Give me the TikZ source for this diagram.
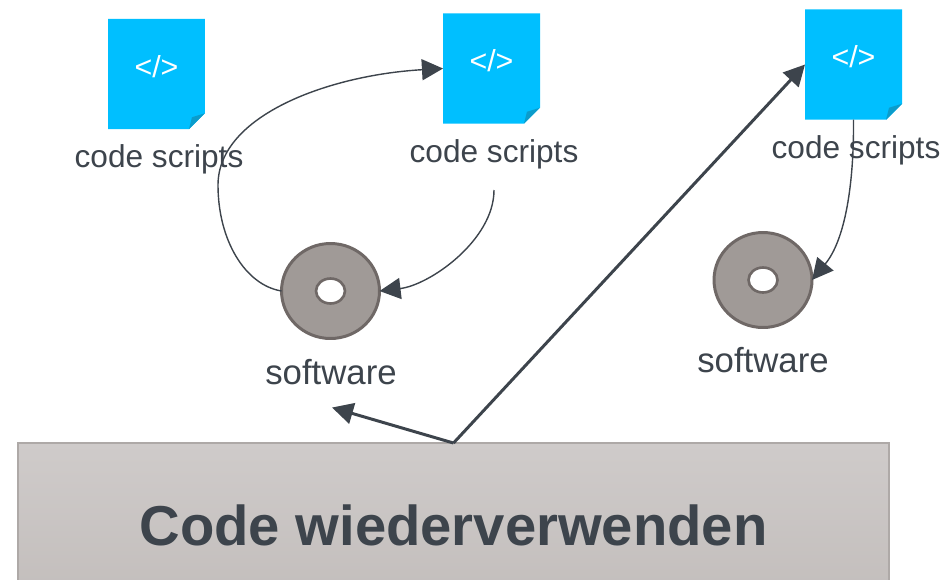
\documentclass[tikz,border=0pt]{standalone}
\usepackage{fontspec}
\setmainfont{Liberation Sans}
\usepackage{tikz}
\usetikzlibrary{calc}
\usetikzlibrary{arrows.meta}
\usetikzlibrary{shapes.geometric}
\definecolor{ink}{HTML}{3d444c}
\definecolor{paper}{HTML}{00bfff}
\definecolor{fold}{HTML}{0b9ccb}
\definecolor{disc}{HTML}{a09a97}
\definecolor{discline}{HTML}{6f6866}
\definecolor{boxtop}{HTML}{cfcbca}
\definecolor{boxbottom}{HTML}{c2bdbb}
\tikzset{
  scriptdoc/.style={rectangle,inner sep=0pt,outer sep=0pt,minimum width=1.94cm,minimum height=2.21cm},
  tagtext/.style={text=white,font=\fontsize{17.3}{20}\selectfont,inner sep=0pt},
  caption/.style={text=ink,font=\fontsize{18}{21}\selectfont,inner sep=0pt},
  softcaption/.style={text=ink,font=\fontsize{19.8}{23}\selectfont,inner sep=0pt},
  discbody/.style={ellipse,fill=disc,draw=discline,line width=1.7pt,inner sep=0pt,outer sep=0pt,minimum width=1.96cm,minimum height=1.9cm},
  dischole/.style={ellipse,fill=white,draw=discline,line width=1.5pt,inner sep=0pt,outer sep=0pt,minimum width=0.58cm,minimum height=0.5cm},
  thinarrow/.style={draw=ink,line width=0.8pt,-{Triangle[length=12pt,width=12pt]}},
  thickarrow/.style={draw=ink,line width=1.7pt,-{Triangle[length=12pt,width=12pt]}}
}
\begin{document}
\begin{tikzpicture}[x=0.02cm,y=-0.02cm]
\useasboundingbox (0,0) rectangle (952,579);

\foreach \name/\x/\y in {a/156.5/74, b/491.5/68.5, c/853.5/64.5} {
  \node[scriptdoc] (script\name) at (\x,\y) {};
  \fill[paper] (script\name.north west) -- (script\name.north east) -- ($(script\name.south east)+(0,-16)$) -- ($(script\name.south east)+(-16,0)$) -- (script\name.south west) -- cycle;
  \fill[fold] ($(script\name.south east)+(0,-16)$) -- ($(script\name.south east)+(-13,-12)$) -- ($(script\name.south east)+(-16,0)$) -- cycle;
  \node[tagtext] (tag\name) at ([yshift=4.2pt]script\name.center) {</>};
}

\node[caption] (labela) at (159,159) {code scripts};
\node[caption] (labelb) at (494,154) {code scripts};
\node[caption] (labelc) at (856,150) {code scripts};

\node[discbody] (disca) at (330.5,291) {};
\node[dischole] (holea) at (disca.center) {};
\node[discbody] (discb) at (763,280) {};
\node[dischole] (holeb) at (discb.center) {};

\node[softcaption] (softa) at (331,372) {software};
\node[softcaption] (softb) at (763,360) {software};

\node[rectangle,draw=disc!85!white,line width=0.8pt,top color=boxtop,bottom color=boxbottom,outer sep=0pt,minimum width=17.42cm,minimum height=3.28cm,text=ink,font=\bfseries\fontsize{32}{38}\selectfont] (reuse) at (453.5,525) {Code wiederverwenden};

\coordinate (outb) at (494,190);
\coordinate (bend) at (218,185);
\coordinate (aim) at (332,407.5);

\draw[thinarrow] (disca.west) .. controls (245,285) and (218,240) .. (bend) .. controls (218,115) and (330,75) .. (scriptb.west);
\draw[thinarrow] (outb) .. controls (494,240) and (430,285) .. (disca.east);
\draw[thinarrow] (scriptc.south) .. controls (854,185) and (845,240) .. (discb.east);

\draw[thickarrow] (reuse.north) -- (scriptc.west);
\draw[thickarrow] (reuse.north) -- (aim);

\end{tikzpicture}
\end{document}
